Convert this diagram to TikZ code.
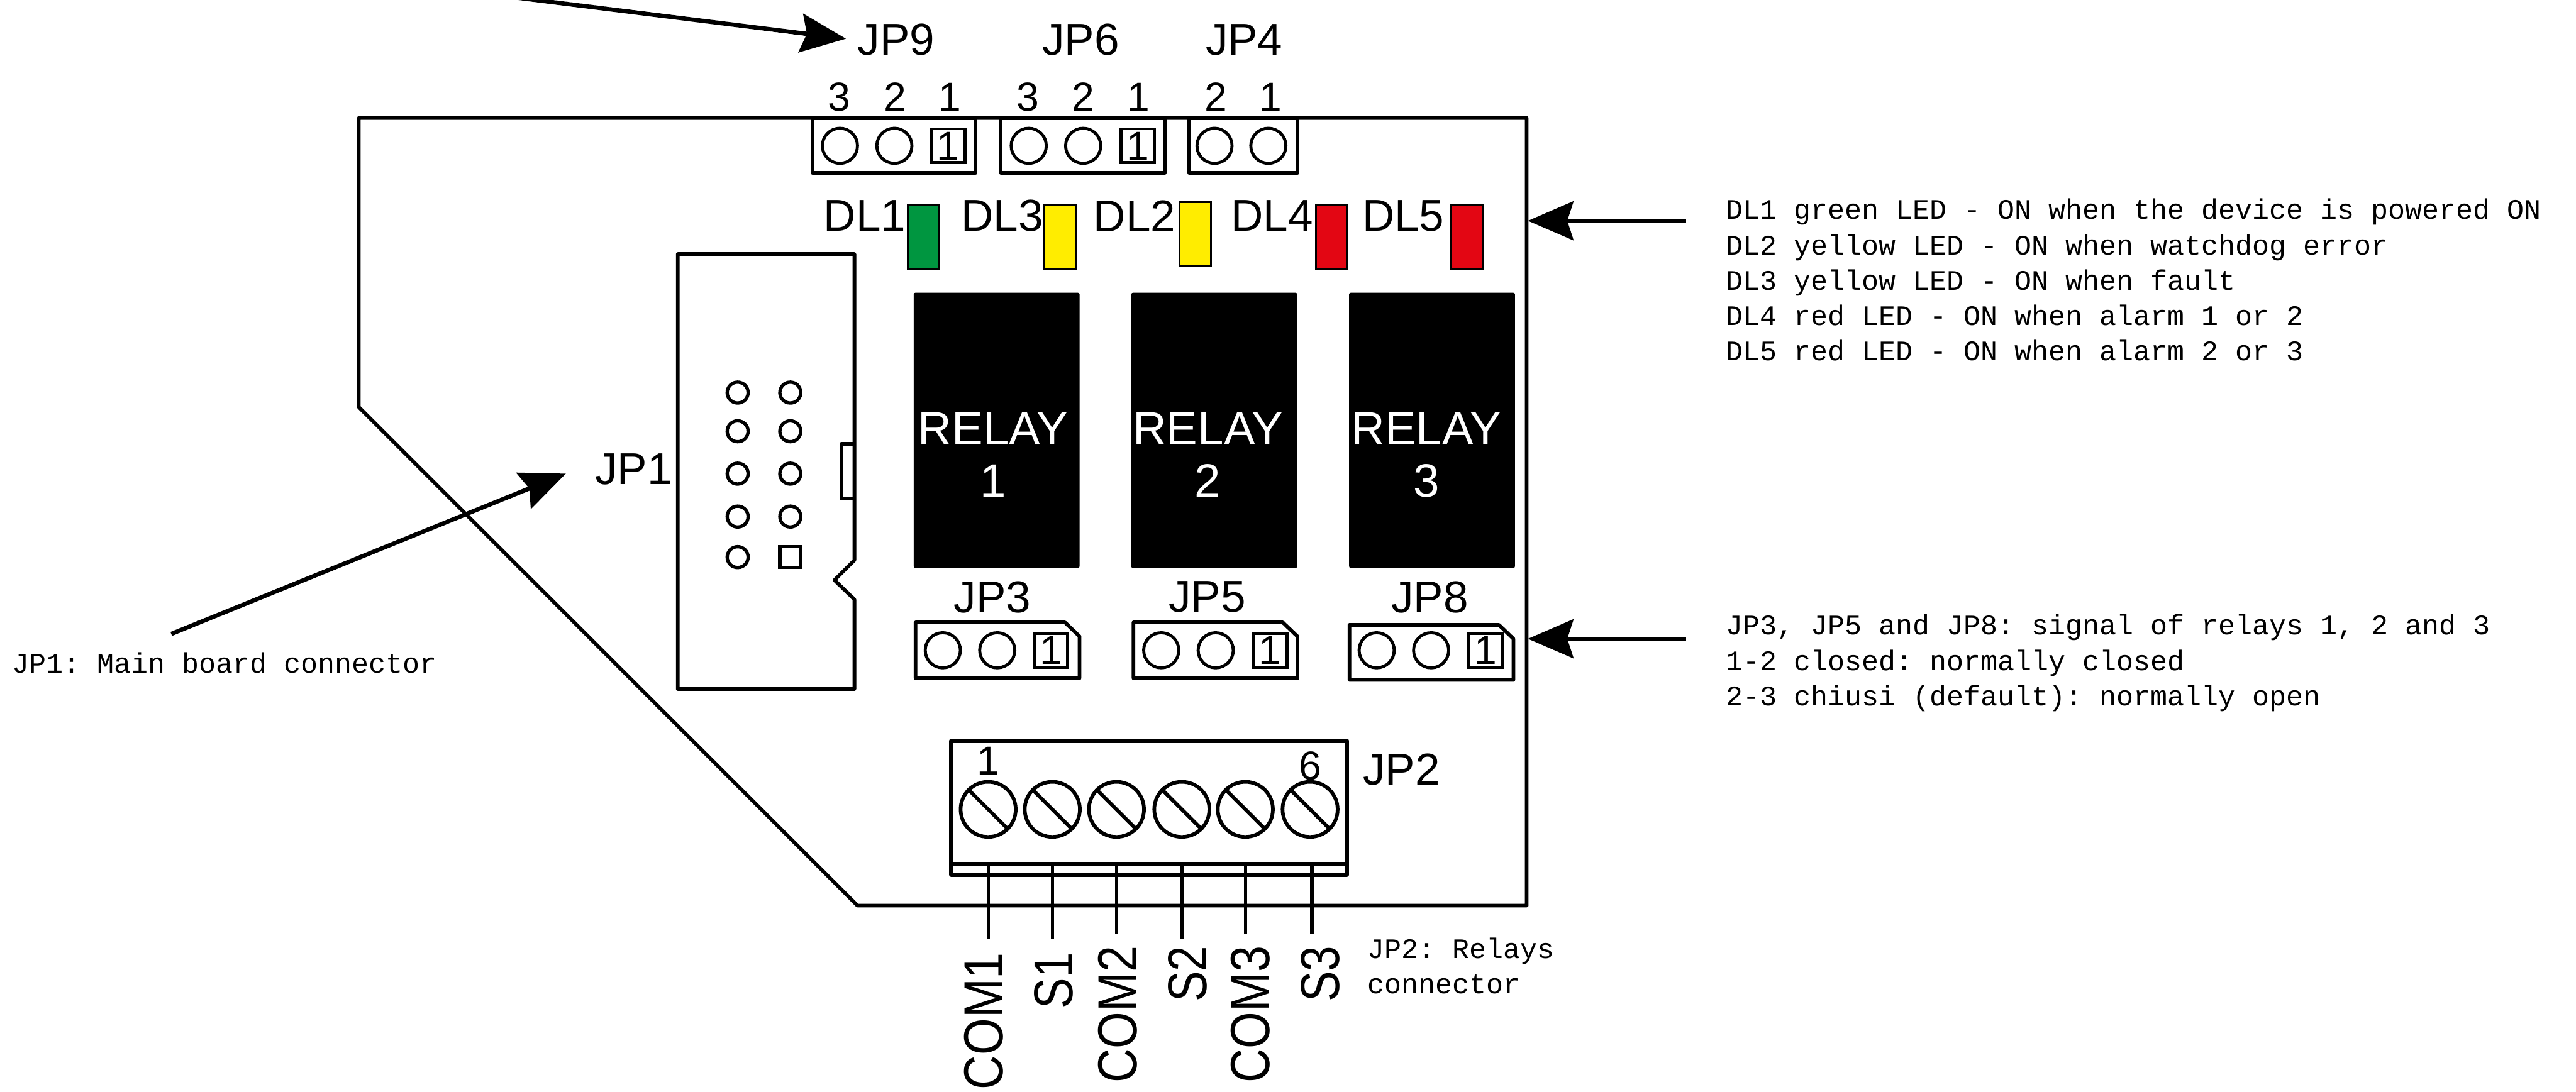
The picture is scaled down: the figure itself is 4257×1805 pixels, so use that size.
\documentclass[tikz,border=0pt]{standalone}
\usepackage{fontspec}
\setmainfont{Liberation Sans}
\setmonofont{Liberation Mono}
\usetikzlibrary{arrows.meta}
\definecolor{ledgreen}{HTML}{009640}
\definecolor{ledyellow}{HTML}{FFED00}
\definecolor{ledred}{HTML}{E30613}
\tikzset{
  outline/.style={line width=0.06cm, line join=round},
  partlabel/.style={inner sep=0, font=\fontsize{21}{21}\selectfont},
  pinnum/.style={inner sep=0, font=\fontsize{19}{19}\selectfont},
  wirelabel/.style={inner sep=0, anchor=east, rotate=90, yscale=1.2, font=\fontsize{21.5}{21.5}\selectfont},
  comlabel/.style={wirelabel, yscale=0.97, font=\fontsize{22.3}{22.3}\selectfont},
  note/.style={inner sep=0, anchor=north west, align=left, font=\ttfamily\fontsize{13.3}{16.6}\selectfont},
  hole/.style={circle, draw, line width=0.05cm, minimum size=0.58cm, inner sep=0},
  pinone/.style={rectangle, draw, line width=0.05cm, minimum width=0.55cm, minimum height=0.56cm, inner sep=0, font=\fontsize{19}{19}\selectfont},
  hdrhole/.style={circle, draw, line width=0.055cm, minimum size=0.345cm, inner sep=0},
  hdrpin/.style={rectangle, draw, line width=0.055cm, minimum size=0.345cm, inner sep=0},
  screw/.style={circle, draw, line width=0.06cm, minimum size=0.91cm, inner sep=0},
  led/.style={rectangle, draw, line width=0.03cm, minimum width=0.52cm, minimum height=1.06cm, inner sep=0},
  relaybox/.style={rectangle, fill=black, rounded corners=0.03cm, minimum width=2.74cm, minimum height=4.55cm, inner sep=0},
  relaytext/.style={inner sep=0, text=white, align=center, font=\fontsize{22}{24.4}\selectfont},
  pointer/.style={line width=0.07cm, -{Stealth[length=7.5mm, width=6.4mm, inset=1mm]}},
  wire/.style={line width=0.055cm},
  block/.style={line width=0.07cm, line join=round}
}

\begin{document}
\begin{tikzpicture}[x=0.01cm, y=-0.01cm]
      \useasboundingbox (0,0) rectangle (4257,1805);

      % board
      \draw[outline] (593,195) -- (2523,195) -- (2523,1497) -- (1417,1497) -- (593,673) -- cycle;

      % top headers
      \draw[outline] (1343,195) rectangle (1612,286);
      \draw[outline] (1654,195) rectangle (1925,286);
      \draw[outline] (1965,195) rectangle (2144,286);
      \node[hole] (jp9c) at (1388,241) {};
      \node[hole] (jp9b) at (1478,241) {};
      \node[pinone] (jp9a) at (1567,241) {1};
      \node[hole] (jp6c) at (1700,241) {};
      \node[hole] (jp6b) at (1790,241) {};
      \node[pinone] (jp6a) at (1880,241) {1};
      \node[hole] (jp4b) at (2007,241) {};
      \node[hole] (jp4a) at (2096,241) {};
      \node[pinnum] (n93) at (1387,160) {3};
      \node[pinnum] (n92) at (1479,160) {2};
      \node[pinnum] (n91) at (1570,160) {1};
      \node[pinnum] (n63) at (1699,160) {3};
      \node[pinnum] (n62) at (1790,160) {2};
      \node[pinnum] (n61) at (1881,160) {1};
      \node[pinnum] (n42) at (2009,160) {2};
      \node[pinnum] (n41) at (2100,160) {1};
      \node[partlabel] (jp9) at (1481,66) {JP9};
      \node[partlabel] (jp6) at (1786,66) {JP6};
      \node[partlabel] (jp4) at (2056,66) {JP4};

      % LEDs
      \node[led, fill=ledgreen] (dl1led) at (1526,391) {};
      \node[led, fill=ledyellow] (dl3led) at (1752,391) {};
      \node[led, fill=ledyellow] (dl2led) at (1975,387.5) {};
      \node[led, fill=ledred] (dl4led) at (2201,391) {};
      \node[led, fill=ledred] (dl5led) at (2424,391) {};
      \node[partlabel] (dl1) at (1429,357) {DL1};
      \node[partlabel] (dl3) at (1656,357) {DL3};
      \node[partlabel] (dl2) at (1875,357) {DL2};
      \node[partlabel] (dl4) at (2102,357) {DL4};
      \node[partlabel] (dl5) at (2319,357) {DL5};

      % main board connector
      \draw[outline] (1412,420) -- (1120,420) -- (1120,1139) -- (1412,1139) -- (1412,991) -- (1379,959) -- (1412,926) -- cycle;
      \draw[outline] (1412,734) -- (1390,734) -- (1390,824) -- (1412,824);
      \node[hdrhole] (p1) at (1219,649) {};
      \node[hdrhole] (p2) at (1306,649) {};
      \node[hdrhole] (p3) at (1219,713) {};
      \node[hdrhole] (p4) at (1306,713) {};
      \node[hdrhole] (p5) at (1219,783) {};
      \node[hdrhole] (p6) at (1306,783) {};
      \node[hdrhole] (p7) at (1219,854) {};
      \node[hdrhole] (p8) at (1306,854) {};
      \node[hdrhole] (p9) at (1219,921) {};
      \node[hdrpin] (p10) at (1306,921) {};
      \node[partlabel] (jp1) at (1047,776) {JP1};

      % relays
      \node[relaybox] (relay1) at (1647,711.5) {};
      \node[relaybox] (relay2) at (2006.5,711.5) {};
      \node[relaybox] (relay3) at (2366.5,711.5) {};
      \node[relaytext] (relay1txt) at (1641,752) {RELAY\\1};
      \node[relaytext] (relay2txt) at (1996,752) {RELAY\\2};
      \node[relaytext] (relay3txt) at (2357,752) {RELAY\\3};

      % relay jumpers
      \draw[outline] (1513,1029) -- (1760,1029) -- (1784,1052) -- (1784,1121) -- (1513,1121) -- cycle;
      \draw[outline] (1873,1029) -- (2120,1029) -- (2144,1052) -- (2144,1121) -- (1873,1121) -- cycle;
      \draw[outline] (2230,1033) -- (2477,1033) -- (2501,1056) -- (2501,1124) -- (2230,1124) -- cycle;
      \node[hole] (jp3c) at (1558,1075) {};
      \node[hole] (jp3b) at (1648,1075) {};
      \node[pinone] (jp3a) at (1737,1075) {1};
      \node[hole] (jp5c) at (1919,1075) {};
      \node[hole] (jp5b) at (2009,1075) {};
      \node[pinone] (jp5a) at (2099,1075) {1};
      \node[hole] (jp8c) at (2275,1075) {};
      \node[hole] (jp8b) at (2365,1075) {};
      \node[pinone] (jp8a) at (2455,1075) {1};
      \node[partlabel] (jp3) at (1640,987) {JP3};
      \node[partlabel] (jp5) at (1995,987) {JP5};
      \node[partlabel] (jp8) at (2363,987) {JP8};

      % terminal block
      \draw[block] (1572,1225) rectangle (2226,1446);
      \draw[block] (1572,1428) -- (2226,1428);
      \node[screw] (sc1) at (1633,1338) {};
      \node[screw] (sc2) at (1739,1338) {};
      \node[screw] (sc3) at (1845,1338) {};
      \node[screw] (sc4) at (1953,1338) {};
      \node[screw] (sc5) at (2058,1338) {};
      \node[screw] (sc6) at (2165,1338) {};
      \draw[outline] (sc1.135) -- (sc1.-45);
      \draw[outline] (sc2.135) -- (sc2.-45);
      \draw[outline] (sc3.135) -- (sc3.-45);
      \draw[outline] (sc4.135) -- (sc4.-45);
      \draw[outline] (sc5.135) -- (sc5.-45);
      \draw[outline] (sc6.135) -- (sc6.-45);
      \node[pinnum] (t1) at (1633,1258) {1};
      \node[pinnum] (t6) at (2165,1266) {6};
      \node[partlabel] (jp2) at (2316,1272) {JP2};

      % wires
      \coordinate (w1) at (1633,1428);
      \coordinate (w2) at (1739,1428);
      \coordinate (w3) at (1845,1428);
      \coordinate (w4) at (1953,1428);
      \coordinate (w5) at (2058,1428);
      \coordinate (w6) at (2168,1428);
      \coordinate (e1) at (1633,1552);
      \coordinate (e2) at (1739,1552);
      \coordinate (e3) at (1845,1543);
      \coordinate (e4) at (1953,1552);
      \coordinate (e5) at (2058,1543);
      \coordinate (e6) at (2168,1543);
      \draw[wire] (w1) -- (e1);
      \draw[wire] (w2) -- (e2);
      \draw[wire] (w3) -- (e3);
      \draw[wire] (w4) -- (e4);
      \draw[wire] (w5) -- (e5);
      \draw[wire] (w6) -- (e6);
      \node[comlabel] (com1) at (1626,1574) {COM1};
      \node[wirelabel] (s1) at (1741,1574) {S1};
      \node[comlabel] (com2) at (1847,1563) {COM2};
      \node[wirelabel] (s2) at (1963,1563) {S2};
      \node[comlabel] (com3) at (2066,1563) {COM3};
      \node[wirelabel] (s3) at (2182,1563) {S3};

      % notes
      \node[note] (dlnote) at (2852,328) {DL1 green LED - ON when the device is powered ON\\DL2 yellow LED - ON when watchdog error\\DL3 yellow LED - ON when fault\\DL4 red LED - ON when alarm 1 or 2\\DL5 red LED - ON when alarm 2 or 3};
      \node[note] (jpnote) at (2852,1015) {JP3, JP5 and JP8: signal of relays 1, 2 and 3\\1-2 closed: normally closed\\2-3 chiusi (default): normally open};
      \node[note] (jp1note) at (20,1078) {JP1: Main board connector};
      \node[note] (jp2note) at (2259,1550) {JP2: Relays\\connector};

      % arrows
      \coordinate (jp9tail) at (845,-5);
      \coordinate (jp9tip) at (1398,64);
      \coordinate (jp1tail) at (283,1048);
      \coordinate (jp1tip) at (935,783);
      \coordinate (dltail) at (2786,365);
      \coordinate (dltip) at (2525,365);
      \coordinate (jptail) at (2786,1056);
      \coordinate (jptip) at (2525,1056);
      \draw[pointer] (jp9tail) -- (jp9tip);
      \draw[pointer] (jp1tail) -- (jp1tip);
      \draw[pointer] (dltail) -- (dltip);
      \draw[pointer] (jptail) -- (jptip);
\end{tikzpicture}
\end{document}
